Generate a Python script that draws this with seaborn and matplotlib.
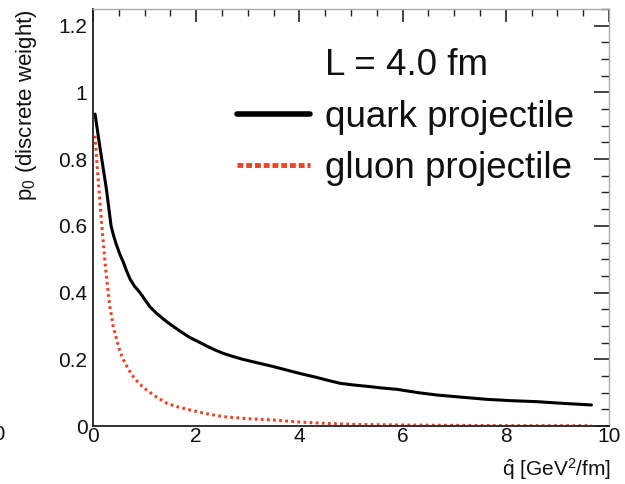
import numpy as np
import pandas as pd
import seaborn as sns
import matplotlib
matplotlib.use("Agg")
import matplotlib.pyplot as plt
from matplotlib.lines import Line2D
from matplotlib.ticker import MultipleLocator, FuncFormatter

# Discrete weight p0 versus transport coefficient qhat, L = 4.0 fm
quark_qhat = [0.04, 0.13, 0.26, 0.35, 0.40, 0.45, 0.52, 0.59, 0.65, 0.72, 0.80, 0.91,
              1.00, 1.10, 1.23, 1.40, 1.56, 1.72, 1.88, 2.05, 2.20, 2.35, 2.52, 2.70,
              2.90, 3.17, 3.50, 3.82, 4.05, 4.30, 4.55, 4.79, 5.05, 5.37, 5.60, 5.89,
              6.30, 6.66, 7.10, 7.63, 8.10, 8.60, 9.10, 9.66]
quark_p0 = [0.935, 0.84, 0.71, 0.60, 0.57, 0.545, 0.515, 0.49, 0.465, 0.44, 0.42, 0.40,
            0.38, 0.358, 0.338, 0.316, 0.298, 0.281, 0.265, 0.252, 0.240, 0.229, 0.218, 0.209,
            0.200, 0.190, 0.178, 0.165, 0.156, 0.147, 0.137, 0.128, 0.123, 0.118, 0.114, 0.110,
            0.100, 0.093, 0.087, 0.080, 0.076, 0.073, 0.068, 0.063]

gluon_qhat = [0.04, 0.08, 0.12, 0.16, 0.20, 0.24, 0.28, 0.33, 0.39, 0.46, 0.52, 0.59,
              0.68, 0.78, 0.90, 1.04, 1.20, 1.43, 1.65, 1.88, 2.20, 2.52, 3.00, 3.50,
              4.00, 4.50, 5.00, 6.00, 7.00, 8.00, 9.00, 9.66]
gluon_p0 = [0.87, 0.78, 0.70, 0.62, 0.55, 0.48, 0.42, 0.355, 0.30, 0.258, 0.225, 0.198,
            0.172, 0.148, 0.126, 0.108, 0.090, 0.068, 0.057, 0.048, 0.037, 0.028, 0.022, 0.018,
            0.012, 0.008, 0.005, 0.003, 0.002, 0.001, 0.001, 0.001]

legend_title = "L = 4.0 fm"
series_labels = ["quark projectile", "gluon projectile"]

quark = pd.DataFrame({"qhat": quark_qhat, "p0": quark_p0})
gluon = pd.DataFrame({"qhat": gluon_qhat, "p0": gluon_p0})

sns.set_theme(style="white")
plt.rcParams["font.family"] = ["Liberation Sans", "DejaVu Sans"]
plt.rcParams["mathtext.fontset"] = "custom"
plt.rcParams["mathtext.rm"] = "Liberation Sans"
plt.rcParams["mathtext.it"] = "Liberation Sans"
for key in ("text.color", "axes.labelcolor", "xtick.labelcolor", "ytick.labelcolor"):
    plt.rcParams[key] = "#111111"

red = "#EE4125"
fig = plt.figure(figsize=(6.25, 4.84), dpi=100)
ax = fig.add_axes([0.1488, 0.1198, 0.8256, 0.8616])

sns.lineplot(data=quark, x="qhat", y="p0", ax=ax, color="black", lw=2.2, sort=False)
sns.lineplot(data=gluon, x="qhat", y="p0", ax=ax, color=red, lw=2.2, sort=False,
             linestyle=(0, (0.9, 1.1)))

ax.set_xlim(0, 10)
ax.set_ylim(0, 1.25)
ax.xaxis.set_major_locator(MultipleLocator(2))
ax.xaxis.set_minor_locator(MultipleLocator(0.5))
ax.yaxis.set_major_locator(MultipleLocator(0.2))
ax.yaxis.set_minor_locator(MultipleLocator(0.05))
fmt = FuncFormatter(lambda v, p: f"{v:g}")
ax.xaxis.set_major_formatter(fmt)
ax.yaxis.set_major_formatter(fmt)

ax.tick_params(which="both", direction="in", top=True, right=True, color="#222222")
ax.tick_params(axis="y", which="major", length=11, width=1.2, labelsize=15, pad=4)
ax.tick_params(axis="y", which="minor", length=6, width=1.0)
ax.tick_params(axis="x", which="major", length=9, width=1.2, labelsize=15, pad=1)
ax.tick_params(axis="x", which="minor", length=5, width=1.0)

for side in ("left", "bottom"):
    ax.spines[side].set_color("#222222")
    ax.spines[side].set_linewidth(1.3)
for side in ("top", "right"):
    ax.spines[side].set_color("#aaaaaa")
    ax.spines[side].set_linewidth(1.0)
for axis in (ax.xaxis, ax.yaxis):
    for t in axis.get_major_ticks() + axis.get_minor_ticks():
        t.tick2line.set_color("#999999")

ax.set_xlabel(r"$\hat{q}$ [GeV$^{2}$/fm]", fontsize=15, loc="right")
ax.xaxis.set_label_coords(1.005, -0.072)
ax.set_ylabel(r"p$_{0}$ (discrete weight)", fontsize=16, loc="top")
ax.yaxis.set_label_coords(-0.105, 1.0)

handles = [Line2D([], [], color="none"),
           Line2D([], [], color="black", lw=4.0),
           Line2D([], [], color=red, lw=3.5, linestyle=(0, (1.2, 0.6)))]
ax.legend(handles, [legend_title] + series_labels, loc="upper left",
          bbox_to_anchor=(0.279, 0.906), frameon=False, fontsize=26.5,
          handlelength=1.98, handletextpad=0.41, labelspacing=0.45,
          borderpad=0, borderaxespad=0)

# neighbouring panel's edge label
fig.text(0.009, 0.103, "10", fontsize=15, ha="right", va="center")

fig.savefig("out.png", dpi=100)
